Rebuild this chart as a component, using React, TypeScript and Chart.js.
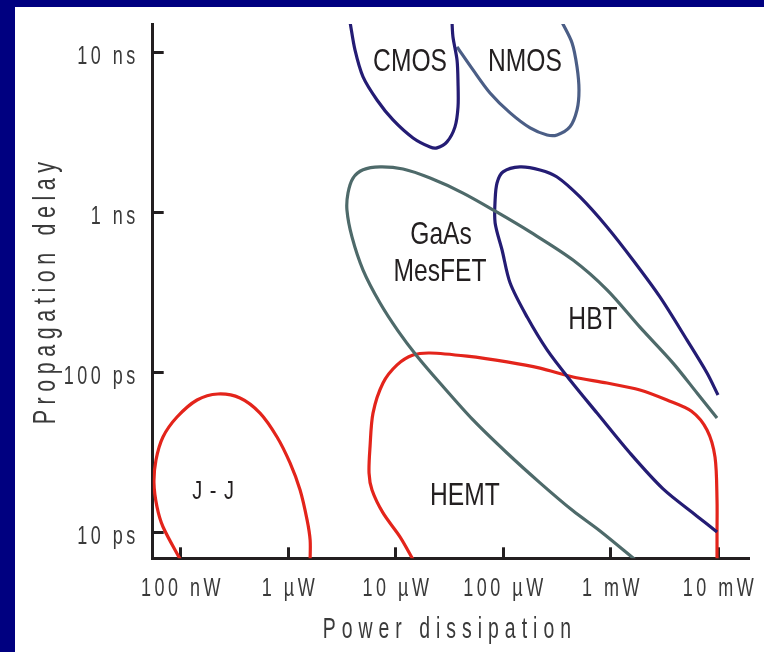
import React, { useEffect, useRef } from 'react';
import { Chart, registerables } from 'chart.js';

Chart.register(...registerables);

// ---- axes (power in µW, delay in ps) ----
const powerTicks = [0.1, 1, 10, 100, 1000, 10000];
const powerTickLabels = ['100 nW', '1 µW', '10 µW', '100 µW', '1 mW', '10 mW'];
const delayTicks = [10, 100, 1000, 10000];
const delayTickLabels = ['10 ps', '100 ps', '1 ns', '10 ns'];
const powerRange = [0.0549, 19340];
const delayRange = [6.92, 15170];
const xTitle = 'Power dissipation';
const yTitle = 'Propagation delay';

// ---- J-J ----
const jjPower = [0.099, 0.0684, 0.0602, 0.0564, 0.0589, 0.0684, 0.0924, 0.142, 0.222, 0.356, 0.547, 0.787, 1.04, 1.29, 1.5, 1.6, 1.6];
const jjDelay = [6.8, 10.9, 14.5, 20.5, 28.5, 39.7, 52.9, 67.6, 73.7, 69.6, 56.0, 39.7, 27.3, 18.5, 12.0, 9.0, 6.8];

// ---- CMOS ----
const cmosPower = [3.76, 4.18, 4.97, 6.7, 9.44, 14.5, 20.9, 24.2, 30.0, 35.6, 38.0, 38.0, 37.2, 34.1, 33.4];
const cmosDelay = [15600, 10440, 7080, 5080, 3810, 2940, 2580, 2550, 2780, 3450, 4600, 6490, 9040, 12590, 15600];

// ---- NMOS ----
const nmosPower = [37.2, 52.4, 75.4, 116, 178, 256, 317, 418, 486, 507, 486, 437, 352];
const nmosDelay = [10900, 7830, 5620, 4220, 3400, 3070, 3070, 3450, 4400, 5870, 8180, 11550, 15600];

// ---- GaAs MesFET ----
const gaasPower = [1680, 796, 446, 220, 108.5, 52.4, 25.8, 15.8, 10.5, 7.15, 4.97, 3.92, 3.52, 3.6, 4.01, 4.97, 7.15, 11.7, 20.9, 42.3, 87.6, 178, 446, 924, 1870, 3800, 6350, 9750];
const gaasDelay = [6.8, 10.25, 13.7, 20.5, 31.5, 50.7, 86.3, 127, 183, 273, 439, 707, 1040, 1330, 1650, 1860, 1940, 1880, 1650, 1330, 1010, 760, 507, 330, 193, 115, 74.8, 52.2];

// ---- HBT ----
const hbtPower = [9960, 7870, 5130, 2870, 1610, 924, 518, 317, 220, 143, 99.6, 87.6, 84.1, 84.1, 97.6, 116, 167, 256, 418, 746, 1510, 3070, 6350, 9750];
const hbtDelay = [72.6, 99.7, 160, 298, 507, 816, 1257, 1677, 1855, 1937, 1803, 1538, 1204, 865, 586, 364, 223, 139, 90.2, 56.0, 31.5, 18.8, 12.7, 10.1];

// ---- HEMT ----
const hemtPower = [14.5, 11.0, 7.62, 6.02, 5.65, 5.77, 6.15, 7.62, 10.3, 14.5, 20.9, 46.1, 108.5, 220, 446, 924, 1870, 3340, 5650, 7870, 9340, 9750, 9750, 9750];
const hemtDelay = [6.8, 9.4, 13.3, 18.5, 23.6, 34.4, 56.0, 86.3, 112, 129, 133, 127, 117, 107, 94.1, 86.3, 78.1, 67.6, 57.5, 43.9, 29.7, 16.0, 9.96, 6.8];

// ---- region labels ----
const regionNames = ['CMOS', 'NMOS', 'GaAs', 'MesFET', 'HBT', 'HEMT', 'J - J'];
const regionPower = [13.6, 159.5, 26.4, 25.8, 684, 44.1, 0.2];
const regionDelay = [8785, 8785, 728, 427, 214, 17.0, 18.0];

const FAMILY = "'Liberation Sans', Arial, sans-serif";

const RED = '#e3241b';
const NAVY = '#241c74';
const SLATE = '#4b5e86';
const GREY = '#4e6a6a';
const AXIS = '#231f20';
const TEXT = '#3a3a3a';

const series = [
  { label: 'J-J', power: jjPower, delay: jjDelay, color: RED },
  { label: 'CMOS', power: cmosPower, delay: cmosDelay, color: NAVY },
  { label: 'NMOS', power: nmosPower, delay: nmosDelay, color: SLATE },
  { label: 'GaAs MesFET', power: gaasPower, delay: gaasDelay, color: GREY },
  { label: 'HBT', power: hbtPower, delay: hbtDelay, color: NAVY },
  { label: 'HEMT', power: hemtPower, delay: hemtDelay, color: RED },
];

type NarrowOpts = {
  size: number;
  sx: number;
  ls: number;
  align: CanvasTextAlign;
  baseline: CanvasTextBaseline;
  color: string;
  rot?: number;
};

function drawNarrow(ctx: any, text: string, x: number, y: number, o: NarrowOpts) {
  ctx.save();
  ctx.translate(x, y);
  if (o.rot) ctx.rotate(o.rot);
  ctx.scale(o.sx, 1);
  ctx.font = `${o.size}px ${FAMILY}`;
  ctx.letterSpacing = `${o.ls / o.sx}px`;
  ctx.textAlign = o.align;
  ctx.textBaseline = o.baseline;
  ctx.fillStyle = o.color;
  const shift = o.align === 'center' ? o.ls / 2 : o.align === 'right' ? o.ls : 0;
  ctx.fillText(text, shift / o.sx, 0);
  ctx.restore();
}

const axisTextPlugin = {
  id: 'axisText',
  afterDraw(chart: any) {
    const { ctx, chartArea } = chart;
    const x = chart.scales.x;
    const y = chart.scales.y;
    const tickOpts = { size: 25, sx: 0.72, ls: 3.5, color: TEXT };
    x.ticks.forEach((t: any, i: number) => {
      drawNarrow(ctx, powerTickLabels[i], x.getPixelForValue(t.value), chartArea.bottom + 37.5, {
        ...tickOpts, align: 'center', baseline: 'alphabetic',
      });
    });
    y.ticks.forEach((t: any, i: number) => {
      drawNarrow(ctx, delayTickLabels[i], chartArea.left - 17.5, y.getPixelForValue(t.value) + 11, {
        ...tickOpts, align: 'right', baseline: 'alphabetic',
      });
    });
    drawNarrow(ctx, xTitle, (chartArea.left + chartArea.right) / 2 - 4, chart.height - 14, {
      size: 29, sx: 0.67, ls: 6, color: TEXT, align: 'center', baseline: 'alphabetic',
    });
    drawNarrow(ctx, yTitle, 55, (chartArea.top + chartArea.bottom) / 2 + 2, {
      size: 32, sx: 0.67, ls: 5.6, color: TEXT, align: 'center', baseline: 'alphabetic', rot: -Math.PI / 2,
    });
  },
};

const regionLabelPlugin = {
  id: 'regionLabels',
  afterDatasetsDraw(chart: any) {
    const { ctx } = chart;
    const x = chart.scales.x;
    const y = chart.scales.y;
    regionNames.forEach((t, i) => {
      const small = t === 'J - J';
      drawNarrow(ctx, t, x.getPixelForValue(regionPower[i]), y.getPixelForValue(regionDelay[i]), {
        size: small ? 25 : 32,
        sx: small ? 0.8 : 0.77,
        ls: small ? 1 : 0,
        color: AXIS,
        align: 'center',
        baseline: 'middle',
      });
    });
  },
};

export default function App() {
  const ref = useRef<HTMLCanvasElement | null>(null);

  useEffect(() => {
    if (!ref.current) return;
    const gridOpts = {
      display: true,
      drawOnChartArea: false,
      drawTicks: true,
      tickLength: -11,
      tickWidth: 3,
      tickColor: AXIS,
    };
    const chart = new Chart(ref.current, {
      type: 'scatter',
      data: {
        datasets: series.map((s) => ({
          label: s.label,
          data: s.power.map((p, i) => ({ x: p, y: s.delay[i] })),
          showLine: true,
          borderColor: s.color,
          backgroundColor: s.color,
          borderWidth: 3.2,
          pointRadius: 0,
          tension: 0.3,
          fill: false,
        })),
      },
      options: {
        animation: false,
        responsive: false,
        maintainAspectRatio: false,
        layout: { padding: { top: 24, right: 15, left: 0, bottom: 0 } },
        plugins: { legend: { display: false }, tooltip: { enabled: false } },
        scales: {
          x: {
            type: 'logarithmic',
            position: 'bottom',
            bounds: 'data',
            min: powerRange[0],
            max: powerRange[1],
            afterBuildTicks: (scale: any) => {
              scale.ticks = powerTicks.map((v) => ({ value: v }));
            },
            afterFit: (scale: any) => {
              scale.height = 93.7;
              scale.paddingLeft = 0;
              scale.paddingRight = 0;
              scale.paddingTop = 0;
              scale.paddingBottom = 0;
            },
            grid: gridOpts,
            border: { display: true, color: AXIS, width: 3 },
            ticks: { display: false, autoSkip: false, maxRotation: 0 },
            title: { display: false, text: xTitle },
          },
          y: {
            type: 'logarithmic',
            position: 'left',
            bounds: 'data',
            min: delayRange[0],
            max: delayRange[1],
            afterBuildTicks: (scale: any) => {
              scale.ticks = delayTicks.map((v) => ({ value: v }));
            },
            afterFit: (scale: any) => {
              scale.width = 152.7;
              scale.paddingLeft = 0;
              scale.paddingRight = 0;
              scale.paddingTop = 0;
              scale.paddingBottom = 0;
            },
            grid: gridOpts,
            border: { display: true, color: AXIS, width: 3 },
            ticks: { display: false, autoSkip: false },
            title: { display: false, text: yTitle },
          },
        },
      },
      plugins: [regionLabelPlugin, axisTextPlugin],
    } as any);
    return () => chart.destroy();
  }, []);

  return (
    <div style={{ position: 'fixed', left: 0, top: 0, width: 764, height: 652, background: '#000080' }}>
      <div style={{ position: 'absolute', left: 15, top: 7, right: 0, bottom: 0, background: '#ffffff' }} />
      <canvas ref={ref} width={764} height={652} style={{ position: 'absolute', left: 0, top: 0, width: 764, height: 652 }} />
    </div>
  );
}
